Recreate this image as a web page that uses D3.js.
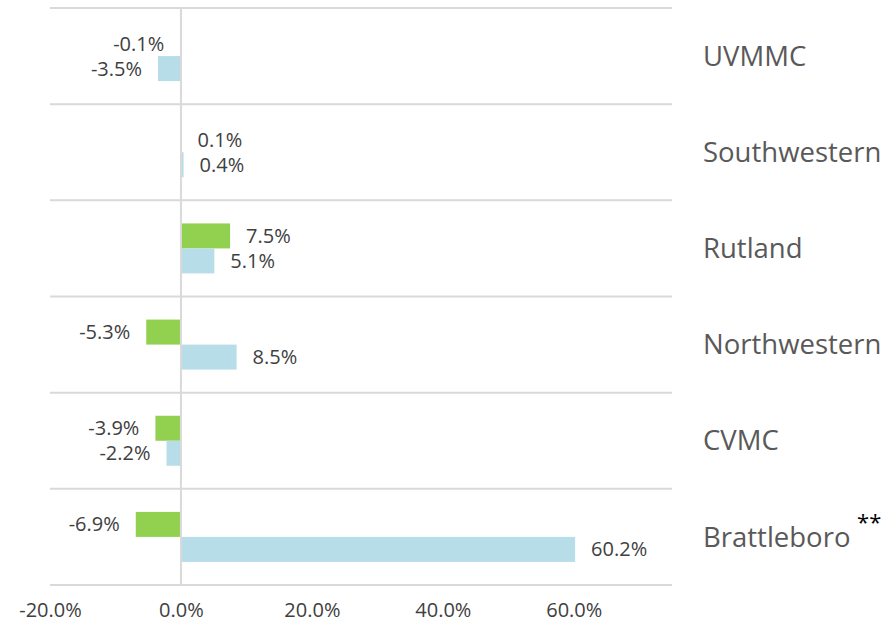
<!DOCTYPE html>
<html lang="en">
<head>
<meta charset="utf-8">
<title>Hospital change</title>
<script src="https://d3js.org/d3.v7.min.js"></script>
<style>
  body { margin: 0; background: #fff; }
  text { font-family: "Open Sans", sans-serif; }
</style>
</head>
<body>
<div id="chart"></div>
<script>
const hospitals = ["UVMMC", "Southwestern", "Rutland", "Northwestern", "CVMC", "Brattleboro"];
const greenVals = [-0.1, 0.1, 7.5, -5.3, -3.9, -6.9];
const blueVals = [-3.5, 0.4, 5.1, 8.5, -2.2, 60.2];
const tickVals = [-20, 0, 20, 40, 60];

const width = 896, height = 629;
const margin = {top: 8, right: 224, bottom: 44, left: 50};

const svg = d3.select("#chart").append("svg")
    .attr("width", width)
    .attr("height", height);

const x = d3.scaleLinear()
    .domain([-20, 75])
    .range([margin.left, width - margin.right]);

const y = d3.scaleBand()
    .domain(hospitals)
    .range([margin.top, height - margin.bottom]);

const sub = d3.scaleBand()
    .domain(["green", "blue"])
    .range([y.bandwidth()/2 - 25, y.bandwidth()/2 + 25]);

const data = [];
hospitals.forEach((h, i) => {
  data.push({h: h, s: "green", v: greenVals[i]});
  data.push({h: h, s: "blue", v: blueVals[i]});
});
const colors = {green: "#92D050", blue: "#B7DDE8"};
const fmt = d => d3.format(".1f")(d).replace("\u2212", "-") + "%";

// gridlines between categories
const bounds = hospitals.map(h => y(h)).concat([y.range()[1]]);
svg.append("g")
  .selectAll("line")
  .data(bounds)
  .join("line")
    .attr("x1", x.range()[0])
    .attr("x2", x.range()[1])
    .attr("y1", d => d)
    .attr("y2", d => d)
    .attr("stroke", "#D9D9D9")
    .attr("stroke-width", 2);

// bars
svg.append("g")
  .selectAll("rect")
  .data(data)
  .join("rect")
    .attr("x", d => x(Math.min(0, d.v)))
    .attr("y", d => y(d.h) + sub(d.s))
    .attr("width", d => Math.abs(x(d.v) - x(0)))
    .attr("height", sub.bandwidth())
    .attr("fill", d => colors[d.s]);

// zero line
svg.append("line")
    .attr("x1", x(0)).attr("x2", x(0))
    .attr("y1", y.range()[0]).attr("y2", y.range()[1])
    .attr("stroke", "#D9D9D9")
    .attr("stroke-width", 2);

// value labels
svg.append("g")
  .selectAll("text")
  .data(data)
  .join("text")
    .attr("x", d => d.v < 0 ? x(d.v) - 16 : x(d.v) + 16)
    .attr("y", d => y(d.h) + sub(d.s) + sub.bandwidth()/2)
    .attr("dy", "0.35em")
    .attr("text-anchor", d => d.v < 0 ? "end" : "start")
    .attr("font-size", 20)
    .attr("fill", "#404040")
    .text(d => fmt(d.v));

// category labels on the right
const cats = svg.append("g")
  .selectAll("text")
  .data(hospitals)
  .join("text")
    .attr("x", 703)
    .attr("y", d => y(d) + y.bandwidth()/2)
    .attr("dy", "0.35em")
    .attr("font-size", 27.5)
    .attr("fill", "#595959")
    .text(d => d);
cats.filter(d => d === "Brattleboro")
  .append("tspan")
    .attr("dy", "-0.75em")
    .attr("dx", "0.3em")
    .attr("fill", "#000")
    .attr("font-size", 22)
    .text("**");

// x axis
const xAxis = d3.axisBottom(x).tickValues(tickVals).tickSize(0).tickPadding(18).tickFormat(fmt);
svg.append("g")
    .attr("transform", `translate(0,${y.range()[1]})`)
    .call(xAxis)
    .call(g => g.select(".domain").remove())
    .call(g => g.selectAll("text")
        .attr("font-size", 20)
        .attr("fill", "#404040")
        .style("font-family", "'Open Sans', sans-serif"));
</script>
</body>
</html>
